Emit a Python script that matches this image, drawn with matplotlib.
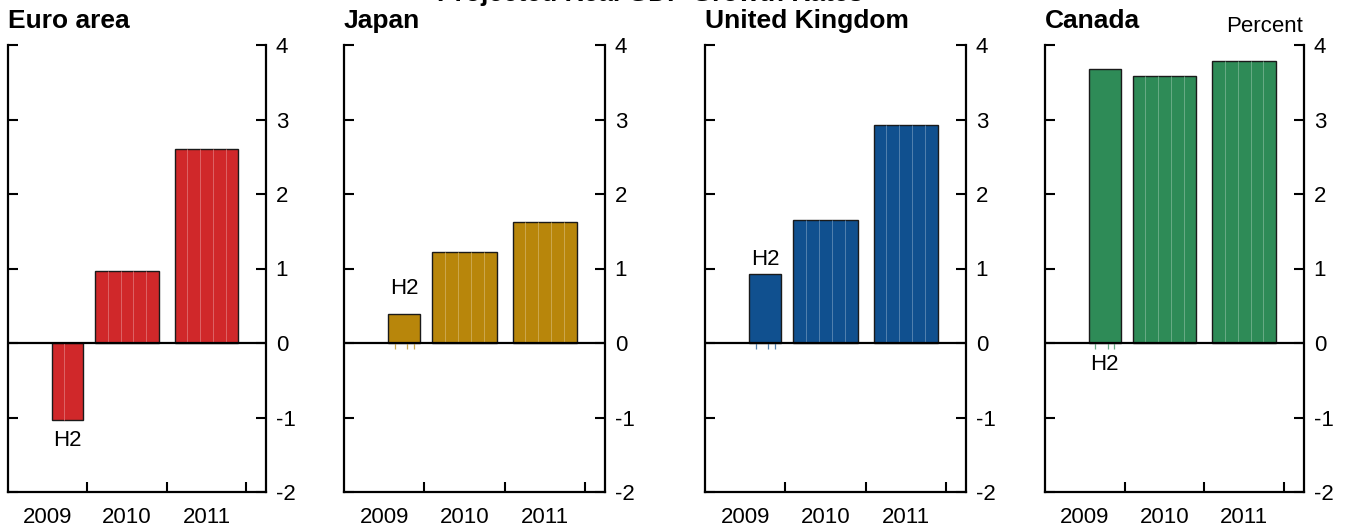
import matplotlib
matplotlib.use('Agg')
import matplotlib.pyplot as plt
import numpy as np
from matplotlib.colors import to_rgb

plt.rcParams['font.family'] = ['Liberation Sans', 'DejaVu Sans']
plt.rcParams['axes.unicode_minus'] = False

# Datos (porcentaje)
paises = ['Euro area', 'Japan', 'United Kingdom', 'Canada']
colores = ['#d0282a', '#b8860b', '#10508f', '#2e8b57']
valores_h2 = [-1.03, 0.39, 0.92, 3.68]      # 2009 H2
valores_2010 = [0.96, 1.22, 1.65, 3.59]
valores_2011 = [2.60, 1.62, 2.93, 3.79]
anios = ['2009', '2010', '2011']
yticks = [-2, -1, 0, 1, 2, 3, 4]

# Posicion vertical de la etiqueta "H2" en cada panel
y_etiqueta_h2 = [-1.31, 0.73, 1.12, -0.29]

W, H = 1353, 529
fig = plt.figure(figsize=(W / 100, H / 100), dpi=100)

izq_px = [8, 344, 705, 1045]
ancho_px = [258, 261, 261, 259]
top_px, bot_px = 45, 492


def aclarar(c, f=0.28):
    r, g, b = to_rgb(c)
    return (r + (1 - r) * f, g + (1 - g) * f, b + (1 - b) * f)


for i, pais in enumerate(paises):
    ax = fig.add_axes([izq_px[i] / W, 1 - bot_px / H, ancho_px[i] / W, (bot_px - top_px) / H])
    color = colores[i]
    claro = aclarar(color)

    # barras: medio anio 2009 H2 y anios completos 2010, 2011
    centros = [2009.75, 2010.5, 2011.5]
    anchos = [0.4, 0.8, 0.8]
    valores = [valores_h2[i], valores_2010[i], valores_2011[i]]
    ax.bar(centros, valores, width=anchos, color=color, edgecolor='#1a1a1a',
           linewidth=1.0, zorder=2)

    # lineas internas claras de las barras
    for c, w, v in zip(centros[1:], anchos[1:], valores[1:]):
        x0 = c - w / 2
        for k in range(1, 5):
            ax.vlines(x0 + w * k / 5, 0, v, color=claro, lw=0.7, zorder=2.5)
    x0 = centros[0] - anchos[0] / 2
    if valores[0] < 0:
        ax.vlines(x0 + anchos[0] * 0.4, 0, valores[0], color=claro, lw=0.7, zorder=2.5)
    else:
        for f in [0.2, 0.6, 0.8]:
            ax.vlines(x0 + anchos[0] * f, 0, -0.08, color=claro, lw=0.9, zorder=2.5)

    ax.axhline(0, color='black', lw=1.6, zorder=3)

    ax.text(centros[0], y_etiqueta_h2[i], 'H2', ha='center', va='center', fontsize=16)

    ax.set_xlim(2009, 2012.25)
    ax.set_ylim(-2, 4)
    ax.spines['top'].set_visible(False)
    for s in ['left', 'right', 'bottom']:
        ax.spines[s].set_linewidth(1.6)

    ax.set_yticks(yticks)
    ax.set_yticklabels([str(t) for t in yticks])
    ax.set_yticks([4], minor=True)
    ax.tick_params(axis='y', which='both', left=True, right=True, labelleft=False,
                   labelright=True, direction='in', width=1.5, labelsize=16)
    ax.tick_params(axis='y', which='major', length=7, pad=7)
    ax.tick_params(axis='y', which='minor', length=12)

    ax.set_xticks([2010, 2011, 2012])
    ax.set_xticklabels([])
    ax.set_xticks([2009.5, 2010.5, 2011.5], minor=True)
    ax.set_xticklabels(anios, minor=True)
    ax.tick_params(axis='x', which='major', direction='in', length=7, width=1.5)
    ax.tick_params(axis='x', which='minor', length=0, pad=11, labelsize=16)

    ax.text(0, 1 + 17 / (bot_px - top_px), pais, transform=ax.transAxes, ha='left',
            va='baseline', fontsize=19, fontweight='bold')

fig.text(1303 / W, 1 - 32 / H, 'Percent', ha='right', va='baseline', fontsize=16)
# titulo general, casi fuera del recuadro como en el original
fig.text(650 / W, 1 - 0.5 / H, 'Projected Real GDP Growth Rates', ha='center',
         va='baseline', fontsize=19, fontweight='bold')

fig.savefig('out.png', dpi=100)
